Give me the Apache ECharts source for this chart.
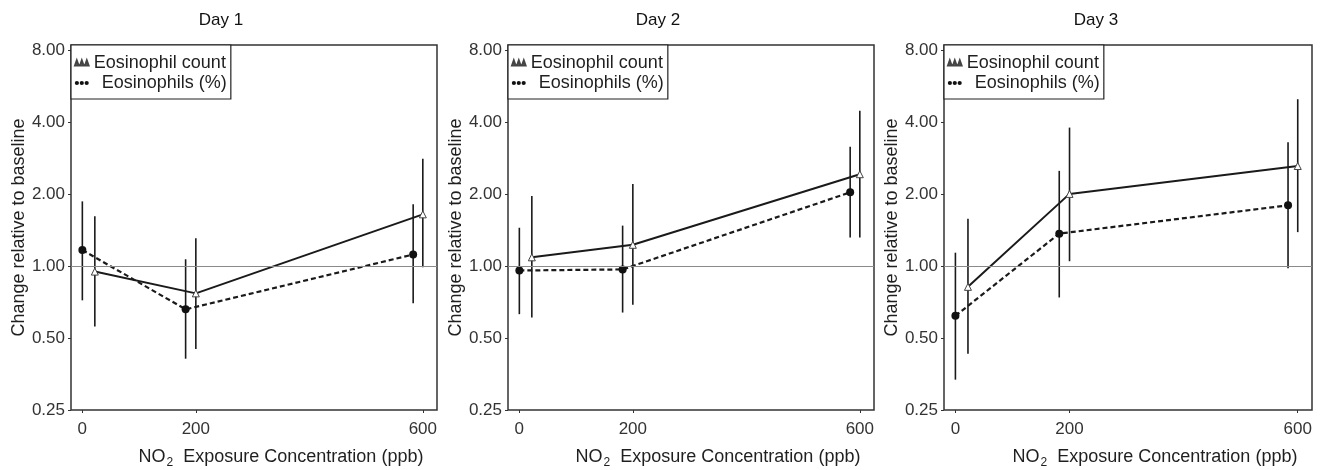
<!DOCTYPE html>
<html>
<head>
<meta charset="utf-8">
<script src="https://cdn.jsdelivr.net/npm/echarts@6/dist/echarts.min.js"></script>
<style>
html,body{margin:0;padding:0;background:#fff;}
#chart{width:1329px;height:470px;}
</style>
</head>
<body>
<div id="chart"></div>
<script>
// ---- data ----
const days = ['Day 1', 'Day 2', 'Day 3'];
const xTicks = [0, 200, 600];
const yTicks = [0.25, 0.5, 1, 2, 4, 8];
const countX = [22, 200, 600];
const pctX = [0, 182, 583];

const day1CountMean = [0.95, 0.77, 1.65];
const day1CountLow  = [0.56, 0.45, 0.99];
const day1CountHigh = [1.62, 1.31, 2.82];
const day1PctMean   = [1.17, 0.66, 1.12];
const day1PctLow    = [0.72, 0.41, 0.70];
const day1PctHigh   = [1.87, 1.07, 1.82];

const day2CountMean = [1.09, 1.23, 2.43];
const day2CountLow  = [0.61, 0.69, 1.32];
const day2CountHigh = [1.97, 2.21, 4.48];
const day2PctMean   = [0.96, 0.97, 2.04];
const day2PctLow    = [0.63, 0.64, 1.32];
const day2PctHigh   = [1.45, 1.48, 3.17];

const day3CountMean = [0.82, 2.01, 2.63];
const day3CountLow  = [0.43, 1.05, 1.39];
const day3CountHigh = [1.58, 3.81, 5.01];
const day3PctMean   = [0.62, 1.37, 1.80];
const day3PctLow    = [0.335, 0.74, 0.98];
const day3PctHigh   = [1.14, 2.51, 3.31];

const countName = 'Eosinophil count';
const pctName = 'Eosinophils (%)';
const baseline = 1;

const panels = [
  {count: [day1CountMean, day1CountLow, day1CountHigh], pct: [day1PctMean, day1PctLow, day1PctHigh]},
  {count: [day2CountMean, day2CountLow, day2CountHigh], pct: [day2PctMean, day2PctLow, day2PctHigh]},
  {count: [day3CountMean, day3CountLow, day3CountHigh], pct: [day3PctMean, day3PctLow, day3PctHigh]}
];

// ---- layout ----
const gridBoxes = [
  {left: 71, width: 366, titleX: 221},
  {left: 508, width: 366, titleX: 658},
  {left: 944, width: 368, titleX: 1096}
];
const FONT = '"Liberation Sans", Arial, sans-serif';
const TXT = '#1f1f1f';

const triIcon = 'path://M0,10 L2.5,3 L5,10 Z M7,10 L9.5,3 L12,10 Z M14,10 L16.5,3 L19,10 Z';
const dotIcon = 'path://M0,5 a3,3 0 1,0 6,0 a3,3 0 1,0 -6,0 Z M7,5 a3,3 0 1,0 6,0 a3,3 0 1,0 -6,0 Z M14,5 a3,3 0 1,0 6,0 a3,3 0 1,0 -6,0 Z';

function errRender(params, api) {
  const x = api.value(0), lo = api.value(1), hi = api.value(2);
  const p1 = api.coord([x, lo]);
  const p2 = api.coord([x, hi]);
  return {
    type: 'line',
    shape: {x1: p1[0], y1: p1[1], x2: p2[0], y2: p2[1]},
    style: {stroke: '#1a1a1a', lineWidth: 1.6}
  };
}

const grid = [], xAxis = [], yAxis = [], series = [], title = [], legend = [];

panels.forEach((p, i) => {
  const g = gridBoxes[i];
  grid.push({left: g.left, width: g.width, top: 45, height: 365, show: true,
    outerBoundsMode: 'none', containLabel: false,
    borderColor: '#333', borderWidth: 1.5, backgroundColor: 'transparent'});
  title.push({text: days[i], left: g.titleX, top: 12, padding: 0, textAlign: 'center',
    textStyle: {fontFamily: FONT, fontSize: 17, fontWeight: 'normal', color: '#111'}});
  xAxis.push({
    type: 'value', gridIndex: i, min: -20, max: 625,
    name: '{a|NO}{s|2}{a|  Exposure Concentration (ppb)}',
    nameLocation: 'middle', nameGap: 35,
    nameTextStyle: {fontFamily: FONT, fontSize: 18, color: TXT, padding: [0, 0, 0, 54],
      rich: {a: {fontFamily: FONT, fontSize: 18, color: TXT},
             s: {fontFamily: FONT, fontSize: 12, color: TXT, padding: [12, 0, 0, 1]}}},
    axisLine: {show: false, onZero: false},
    axisTick: {show: true, customValues: xTicks, length: 3, lineStyle: {color: '#333'}},
    axisLabel: {customValues: xTicks, fontFamily: FONT, fontSize: 17, color: '#333', margin: 11},
    splitLine: {show: false}
  });
  yAxis.push({
    type: 'log', logBase: 2, gridIndex: i, min: 0.25, max: 8.45,
    name: 'Change relative to baseline', nameLocation: 'middle', nameGap: 43,
    nameTextStyle: {fontFamily: FONT, fontSize: 18, color: TXT},
    axisLine: {show: false, onZero: false},
    axisTick: {show: true, customValues: yTicks, length: 3, lineStyle: {color: '#333'}},
    axisLabel: {customValues: yTicks, fontFamily: FONT, fontSize: 17, color: '#333', margin: 6,
      formatter: v => Number(v).toFixed(2)},
    splitLine: {show: false}
  });

  const cnt = p.count, pc = p.pct;
  series.push({
    type: 'custom', name: 'errCount' + i, xAxisIndex: i, yAxisIndex: i,
    renderItem: errRender, encode: {x: 0, y: [1, 2]}, silent: true, z: 2,
    data: countX.map((x, k) => [x, cnt[1][k], cnt[2][k]])
  });
  series.push({
    type: 'custom', name: 'errPct' + i, xAxisIndex: i, yAxisIndex: i,
    renderItem: errRender, encode: {x: 0, y: [1, 2]}, silent: true, z: 2,
    data: pctX.map((x, k) => [x, pc[1][k], pc[2][k]])
  });
  series.push({
    type: 'line', name: countName, xAxisIndex: i, yAxisIndex: i, z: 3,
    data: countX.map((x, k) => [x, cnt[0][k]]),
    symbol: 'triangle', symbolSize: 7,
    itemStyle: {color: '#fff', borderColor: '#444', borderWidth: 1},
    lineStyle: {color: '#1a1a1a', width: 2, type: 'solid'},
    markLine: {silent: true, symbol: 'none', label: {show: false},
      lineStyle: {color: '#8a8a8a', width: 1, type: 'solid'},
      data: [{yAxis: baseline}]}
  });
  series.push({
    type: 'line', name: pctName, xAxisIndex: i, yAxisIndex: i, z: 3,
    data: pctX.map((x, k) => [x, pc[0][k]]),
    symbol: 'circle', symbolSize: 8,
    itemStyle: {color: '#111'},
    lineStyle: {color: '#1a1a1a', width: 2.2, type: [5, 3]}
  });

  legend.push({
    left: g.left, top: 45, orient: 'vertical', itemGap: 2,
    itemWidth: 14, itemHeight: 5,
    backgroundColor: '#fff', borderColor: '#222', borderWidth: 1.2,
    padding: [9, 4, 7, 3], selectedMode: false,
    textStyle: {fontFamily: FONT, fontSize: 18, color: TXT},
    data: [
      {name: countName, icon: triIcon, itemStyle: {color: '#777'}},
      {name: pctName, icon: dotIcon, itemStyle: {color: '#111'}, textStyle: {padding: [0, 0, 0, 8]}}
    ]
  });
});

const chart = echarts.init(document.getElementById('chart'), null, {renderer: 'canvas'});
chart.setOption({
  animation: false,
  backgroundColor: '#fff',
  title, grid, xAxis, yAxis, legend, series
});
</script>
</body>
</html>
